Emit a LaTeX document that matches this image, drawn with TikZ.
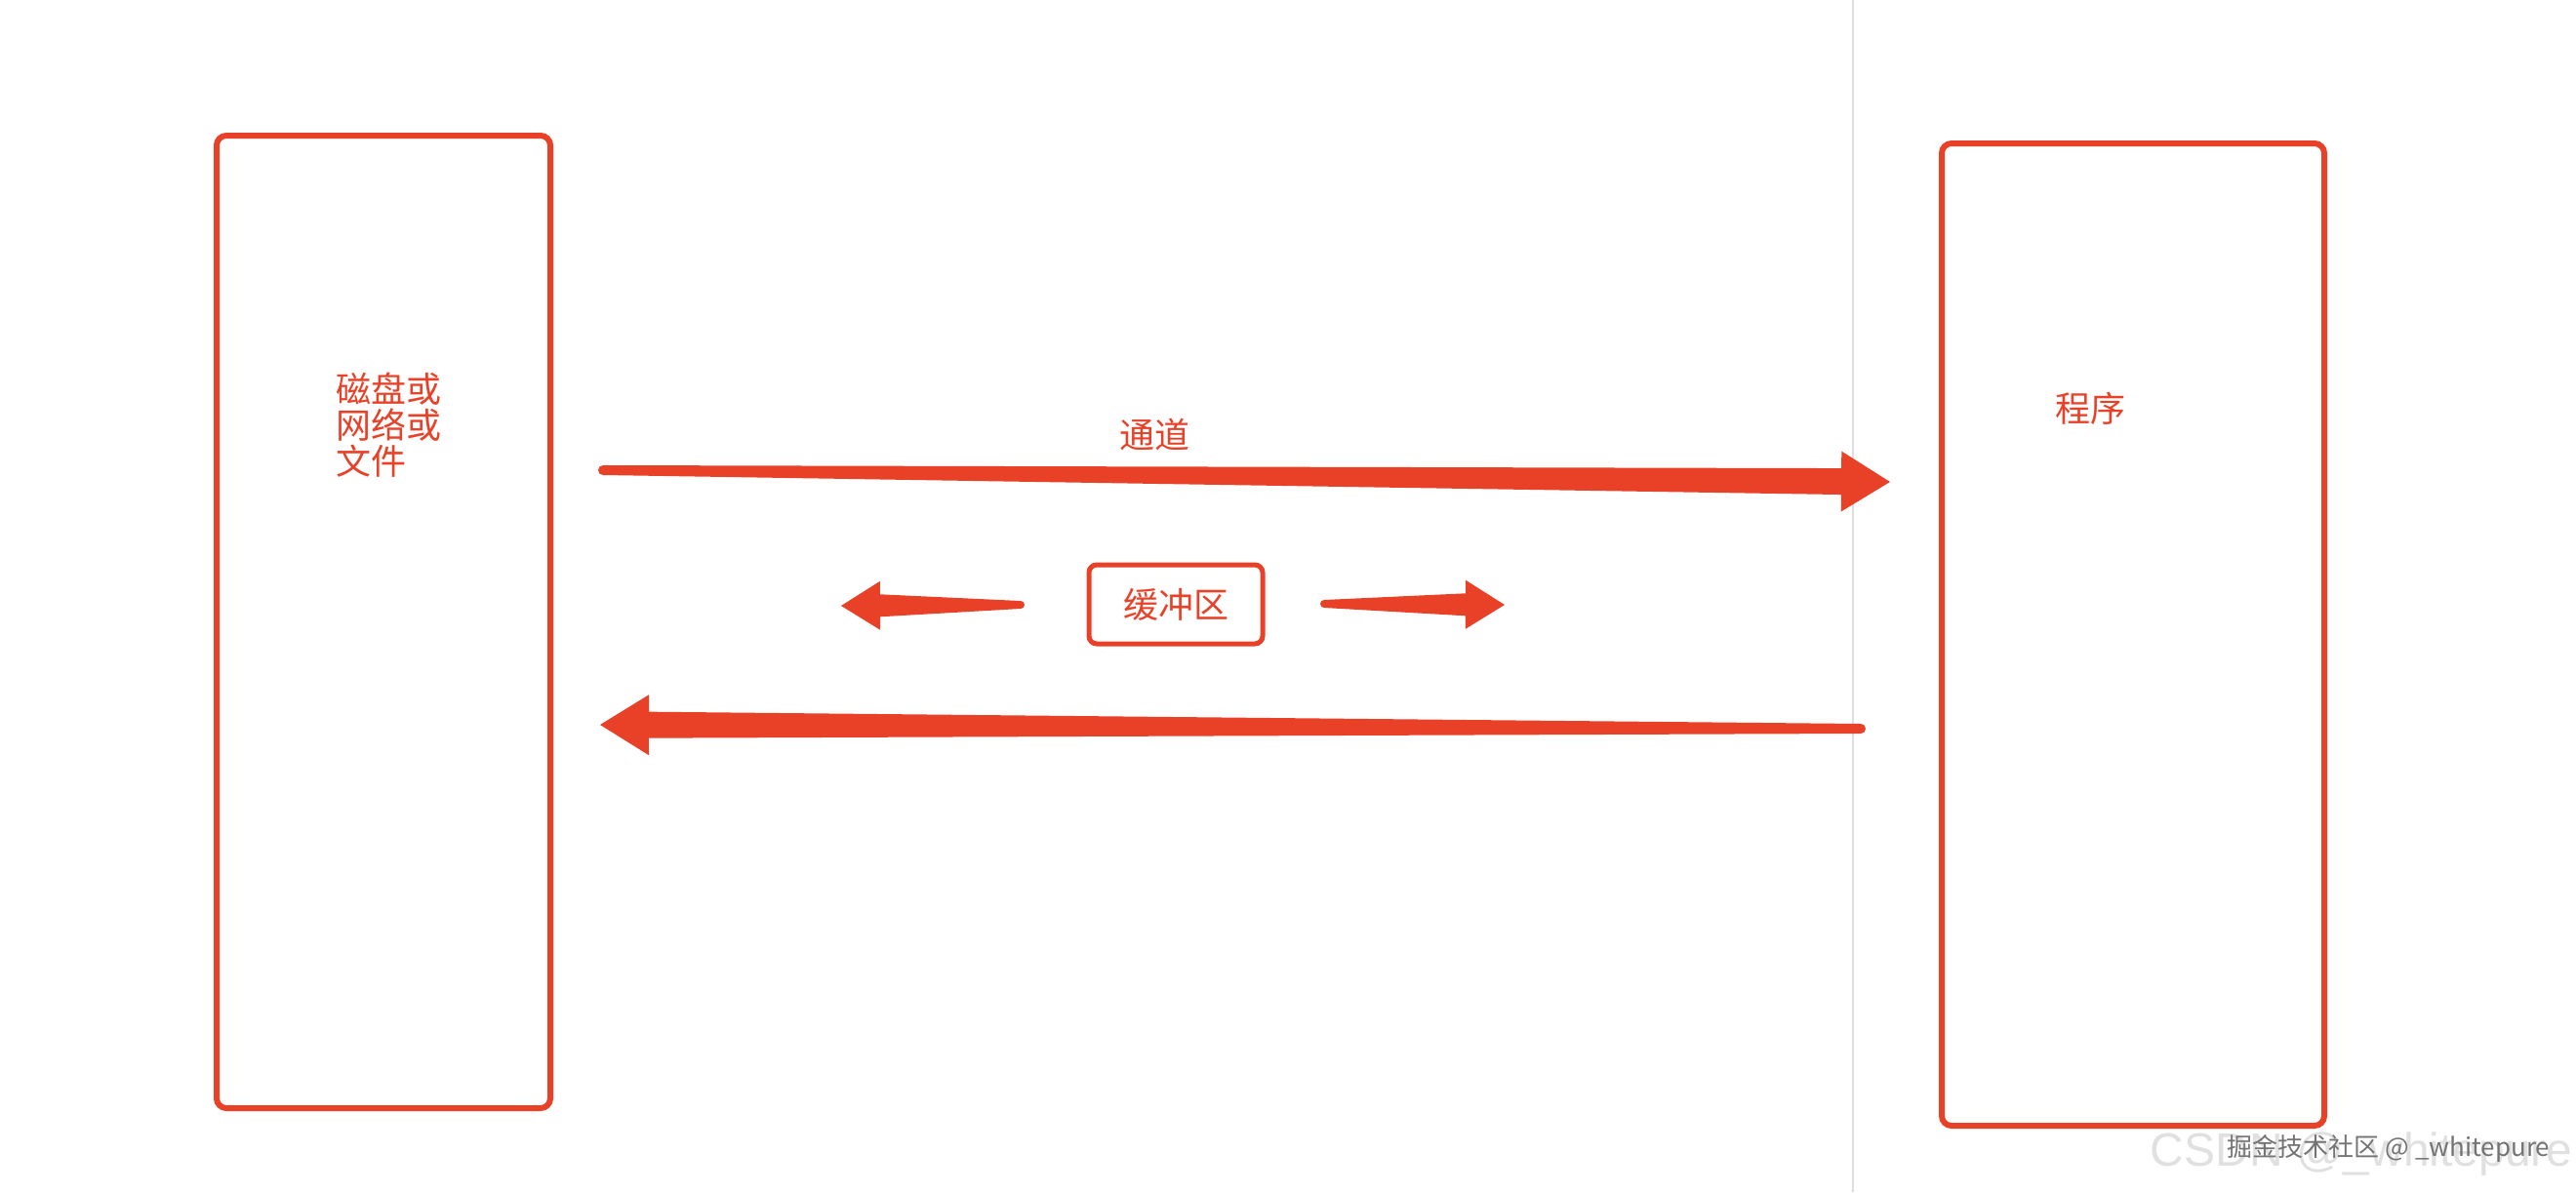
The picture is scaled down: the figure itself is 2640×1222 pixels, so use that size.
\documentclass[tikz,border=0pt]{standalone}
\usepackage{fontspec}
\setmainfont{Noto Sans CJK SC}
\newfontfamily\latinfont{Liberation Sans}
\usepackage{xcolor}
\usetikzlibrary{calc}
\definecolor{rouge}{RGB}{232,65,40}

% Fleche effilee : queue, pointe, demi-largeurs (queue, tige, tete), longueur de la tete
\newcommand{\FlecheEffilee}[6]{%
  \coordinate (#2-b) at ($(#2)!#6!(#1)$);
  \fill[rouge] ($(#1)!#3!90:(#2)$) -- ($(#2-b)!#4!90:(#2)$) -- ($(#2-b)!#5!90:(#2)$)
    -- (#2) -- ($(#2-b)!#5!-90:(#2)$) -- ($(#2-b)!#4!-90:(#2)$) -- ($(#1)!#3!-90:(#2)$) -- cycle;
  \fill[rouge] (#1) circle (#3);
}

\begin{document}
\begin{tikzpicture}[x=0.5pt,y=-0.5pt]
% Styles (MODIFIABLES)
\tikzstyle{boite}=[draw=rouge,line width=3pt,rounded corners=5pt,inner sep=0pt]
\tikzstyle{tampon}=[draw=rouge,line width=2.5pt,rounded corners=4pt,inner sep=0pt,text=rouge,font=\fontsize{18}{18.5}\selectfont]
\tikzstyle{texte}=[text=rouge,font=\fontsize{18}{18.5}\selectfont,inner sep=0pt]
\tikzstyle{separation}=[draw=black!13,line width=1pt]
% Dimensions (MODIFIABLES)
\def\QueueGrosse{2.5pt}
\def\TigeGrosse{6.75pt}
\def\TeteGrosse{15.5pt}
\def\LongGrosse{25pt}
\def\QueueFine{2pt}
\def\TigeFine{5.75pt}
\def\TeteFine{12.5pt}
\def\LongFine{20pt}
% Cadre
\useasboundingbox (0,0) rectangle (2640,1222);
% Separation
\coordinate (SepHaut) at (1899,0);
\coordinate (SepBas) at (1899,1222);
\draw[separation] (SepHaut) -- (SepBas);
% Noeuds
\node[boite,minimum width=171pt,minimum height=498.5pt] (Disque) at (393,637.5) {};
\node[boite,minimum width=196pt,minimum height=503.5pt] (Prog) at (2186,650.5) {};
\node[tampon,minimum width=89pt,minimum height=40.5pt] (Tampon) at (1205,619.5) {缓冲区};
\node[texte,align=left] (TexteDisque) at (398.5,436) {磁盘或\\网络或\\文件};
\node[texte] (TexteProg) at (2142,419) {程序};
\node[texte] (Canal) at (1183,446) {通道};
% Fleches
\coordinate (qA) at (618,482);
\coordinate (pA) at (1937,494);
\coordinate (qB) at (1907,747);
\coordinate (pB) at (615,743);
\coordinate (qC) at (1046,620);
\coordinate (pC) at (862,621);
\coordinate (qD) at (1357,619);
\coordinate (pD) at (1542,620);
\FlecheEffilee{qA}{pA}{\QueueGrosse}{\TigeGrosse}{\TeteGrosse}{\LongGrosse}
\FlecheEffilee{qB}{pB}{\QueueGrosse}{\TigeGrosse}{\TeteGrosse}{\LongGrosse}
\FlecheEffilee{qC}{pC}{\QueueFine}{\TigeFine}{\TeteFine}{\LongFine}
\FlecheEffilee{qD}{pD}{\QueueFine}{\TigeFine}{\TeteFine}{\LongFine}
% Filigrane
\node[anchor=base east,inner sep=0pt,text=black!12,font=\latinfont\fontsize{24}{26}\selectfont] (MarqueA) at (2637,1195) {CSDN @\_whitepure};
\node[inner sep=0pt,text=black!55,font=\fontsize{13}{14}\selectfont] (MarqueB) at (2448,1177) {掘金技术社区 @ \_whitepure};
\end{tikzpicture}
\end{document}
